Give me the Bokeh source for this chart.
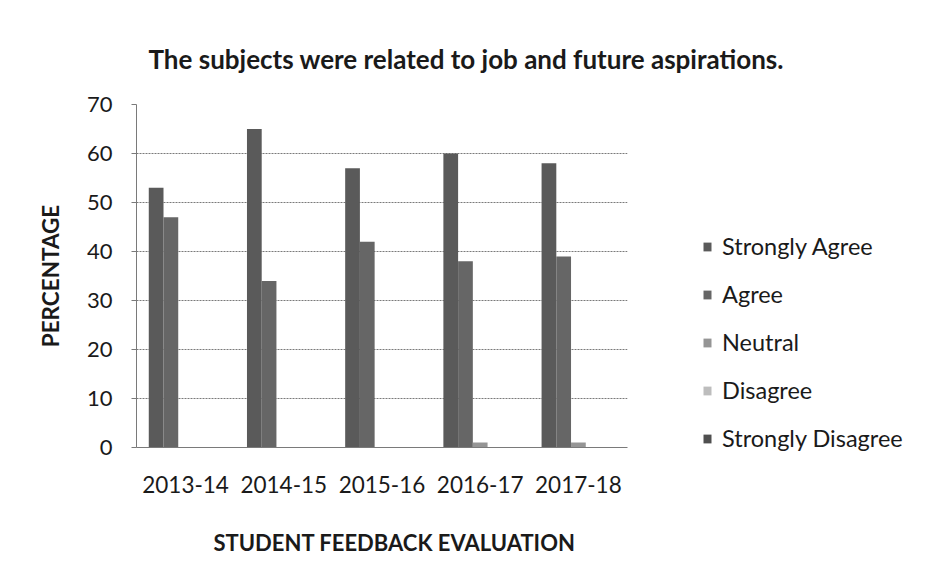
from bokeh.plotting import figure
from bokeh.models import FactorRange, Range1d, Legend, LegendItem, Title, ColumnDataSource, FixedTicker
from bokeh.transform import dodge
from bokeh.embed import file_html
from bokeh.resources import INLINE

years = ["2013-14", "2014-15", "2015-16", "2016-17", "2017-18"]
series_names = ["Strongly Agree", "Agree", "Neutral", "Disagree", "Strongly Disagree"]
strongly_agree = [53, 65, 57, 60, 58]
agree = [47, 34, 42, 38, 39]
neutral = [0, 0, 0, 1, 1]
disagree = [0, 0, 0, 0, 0]
strongly_disagree = [0, 0, 0, 0, 0]
y_ticks = [0, 10, 20, 30, 40, 50, 60, 70]

colors = ["#5a5a5a", "#666666", "#959595", "#bdbdbd", "#4f4f4f"]
offsets = [-0.3, -0.15, 0.0, 0.15, 0.3]
bar_w = 0.15

src = ColumnDataSource(dict(
    years=years, sa=strongly_agree, ag=agree, ne=neutral, di=disagree, sd=strongly_disagree))
cols = ["sa", "ag", "ne", "di", "sd"]

FONT = "Lato"
TXT = "#1a1a1a"

p = figure(width=919, height=580, output_backend="svg", toolbar_location=None,
           x_range=FactorRange(*years), y_range=Range1d(0, 70),
           min_border_left=136, min_border_right=292, min_border_top=104, min_border_bottom=133)
p.frame_width = 491
p.frame_height = 343

renderers = []
for c, off, col in zip(cols, offsets, colors):
    r = p.vbar(x=dodge("years", off, range=p.x_range), top=c, width=bar_w, source=src,
               fill_color=col, line_color=None)
    renderers.append(r)

legend = Legend(items=[LegendItem(label=n, renderers=[r]) for n, r in zip(series_names, renderers)],
                location=(75, -5), margin=0, padding=0, border_line_color=None,
                background_fill_alpha=0, glyph_width=10, glyph_height=11,
                label_standoff=10, label_height=24, spacing=20,
                label_text_font=FONT, label_text_font_size="23.5px", label_text_color=TXT)
p.add_layout(legend, "right")

p.outline_line_color = None
p.xgrid.grid_line_color = None
p.ygrid.grid_line_color = "#7a7a7a"
p.ygrid.grid_line_dash = "2 1"
p.yaxis.ticker = FixedTicker(ticks=y_ticks)

p.yaxis.axis_line_color = "#7a7a7a"
p.yaxis.major_tick_line_color = "#7a7a7a"
p.yaxis.major_tick_out = 5
p.yaxis.major_tick_in = 0
p.yaxis.minor_tick_line_color = None
p.yaxis.major_label_standoff = 19
p.yaxis.major_label_text_font = FONT
p.yaxis.major_label_text_font_size = "22px"
p.yaxis.major_label_text_color = TXT
p.yaxis.axis_label = "PERCENTAGE"
p.yaxis.axis_label_text_font = FONT
p.yaxis.axis_label_text_font_style = "bold"
p.yaxis.axis_label_text_font_size = "22.5px"
p.yaxis.axis_label_text_color = TXT
p.yaxis.axis_label_standoff = 20

p.xaxis.axis_line_color = "#7a7a7a"
p.xaxis.major_tick_line_color = None
p.xaxis.major_tick_out = 0
p.xaxis.major_label_standoff = 28
p.xaxis.major_label_text_font = FONT
p.xaxis.major_label_text_font_size = "22.5px"
p.xaxis.major_label_text_color = TXT

p.add_layout(Title(text="STUDENT FEEDBACK EVALUATION", align="left", offset=77, standoff=62,
                   text_font=FONT, text_font_size="22px", text_font_style="bold",
                   text_color=TXT), "below")
p.add_layout(Title(text="The subjects were related to job and future aspirations.", align="left",
                   offset=12, standoff=60, text_font=FONT, text_font_size="26px",
                   text_font_style="bold", text_color=TXT), "above")

open("out.html", "w").write(file_html(p, INLINE))
